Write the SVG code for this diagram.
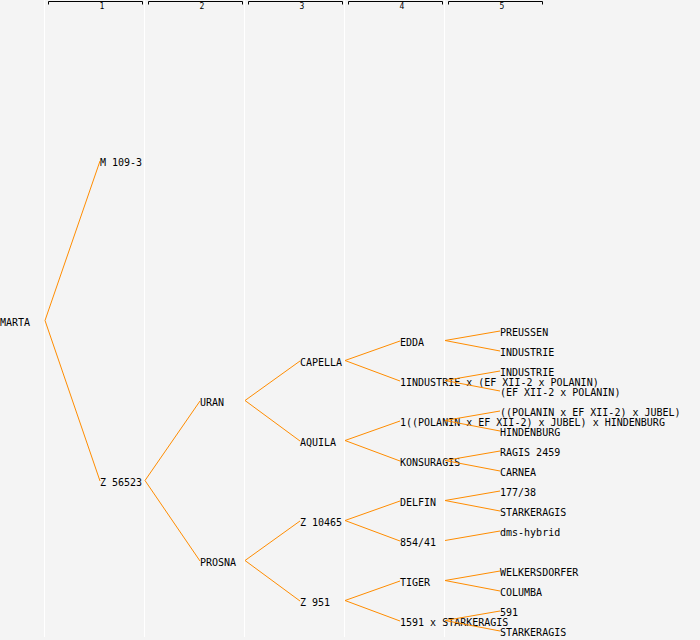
<svg xmlns="http://www.w3.org/2000/svg" width="700" height="640" viewBox="0 0 700 640">
<style>
.sep{stroke:#ffffff;stroke-width:1}
.br{fill:none;stroke:#000000;stroke-width:1}
.hl{font-family:"DejaVu Sans Mono","Liberation Mono",monospace;font-size:8px;fill:#000;text-anchor:middle}
.t{font-family:"DejaVu Sans Mono","Liberation Mono",monospace;font-size:10px;fill:#000}
.c line{stroke:#ff8c00;stroke-width:1}
</style>
<rect x="0" y="0" width="700" height="640" fill="#f4f4f4"/>
<g id="columns">
<line class="sep" x1="44.5" y1="0" x2="44.5" y2="637"/>
<line class="sep" x1="144.5" y1="0" x2="144.5" y2="637"/>
<line class="sep" x1="244.5" y1="0" x2="244.5" y2="637"/>
<line class="sep" x1="344.5" y1="0" x2="344.5" y2="637"/>
<line class="sep" x1="444.5" y1="0" x2="444.5" y2="637"/>
<path class="br" d="M48.5,4.5V1.5H142.5V4.5"/>
<path class="br" d="M148.5,4.5V1.5H242.5V4.5"/>
<path class="br" d="M248.5,4.5V1.5H342.5V4.5"/>
<path class="br" d="M348.5,4.5V1.5H442.5V4.5"/>
<path class="br" d="M448.5,4.5V1.5H542.5V4.5"/>
<text class="hl" x="102" y="9">1</text>
<text class="hl" x="202" y="9">2</text>
<text class="hl" x="302" y="9">3</text>
<text class="hl" x="402" y="9">4</text>
<text class="hl" x="502" y="9">5</text>
</g>
<g id="n-marta"><text class="t" x="0" y="326">MARTA</text></g>
<g id="n-m1093"><text class="t" x="100" y="166">M 109-3</text></g>
<g id="n-z56523"><text class="t" x="100" y="486">Z 56523</text></g>
<g id="n-uran"><text class="t" x="200" y="406">URAN</text></g>
<g id="n-prosna"><text class="t" x="200" y="566">PROSNA</text></g>
<g id="n-capella"><text class="t" x="300" y="366">CAPELLA</text></g>
<g id="n-aquila"><text class="t" x="300" y="446">AQUILA</text></g>
<g id="n-z10465"><text class="t" x="300" y="526">Z 10465</text></g>
<g id="n-z951"><text class="t" x="300" y="606">Z 951</text></g>
<g id="n-edda"><text class="t" x="400" y="346">EDDA</text></g>
<g id="n-1industrie"><text class="t" x="400" y="386">1INDUSTRIE x (EF XII-2 x POLANIN)</text></g>
<g id="n-1polanin"><text class="t" x="400" y="426">1((POLANIN x EF XII-2) x JUBEL) x HINDENBURG</text></g>
<g id="n-konsuragis"><text class="t" x="400" y="466">KONSURAGIS</text></g>
<g id="n-delfin"><text class="t" x="400" y="506">DELFIN</text></g>
<g id="n-85441"><text class="t" x="400" y="546">854/41</text></g>
<g id="n-tiger"><text class="t" x="400" y="586">TIGER</text></g>
<g id="n-1591"><text class="t" x="400" y="626">1591 x STARKERAGIS</text></g>
<g id="n-preussen"><text class="t" x="500" y="336">PREUSSEN</text></g>
<g id="n-industrie1"><text class="t" x="500" y="356">INDUSTRIE</text></g>
<g id="n-industrie2"><text class="t" x="500" y="376">INDUSTRIE</text></g>
<g id="n-efxii"><text class="t" x="500" y="396">(EF XII-2 x POLANIN)</text></g>
<g id="n-polaninjubel"><text class="t" x="500" y="416">((POLANIN x EF XII-2) x JUBEL)</text></g>
<g id="n-hindenburg"><text class="t" x="500" y="436">HINDENBURG</text></g>
<g id="n-ragis"><text class="t" x="500" y="456">RAGIS 2459</text></g>
<g id="n-carnea"><text class="t" x="500" y="476">CARNEA</text></g>
<g id="n-17738"><text class="t" x="500" y="496">177/38</text></g>
<g id="n-starkeragis1"><text class="t" x="500" y="516">STARKERAGIS</text></g>
<g id="n-dms"><text class="t" x="500" y="536">dms-hybrid</text></g>
<g id="n-welkersdorfer"><text class="t" x="500" y="576">WELKERSDORFER</text></g>
<g id="n-columba"><text class="t" x="500" y="596">COLUMBA</text></g>
<g id="n-591"><text class="t" x="500" y="616">591</text></g>
<g id="n-starkeragis2"><text class="t" x="500" y="636">STARKERAGIS</text></g>
<g id="connectors" class="c">
<line x1="45" y1="320.5" x2="100" y2="161"/>
<line x1="45" y1="320.5" x2="100" y2="481"/>
<line x1="145" y1="480.5" x2="200" y2="401"/>
<line x1="145" y1="480.5" x2="200" y2="561"/>
<line x1="245" y1="400.5" x2="300" y2="361"/>
<line x1="245" y1="400.5" x2="300" y2="441"/>
<line x1="245" y1="560.5" x2="300" y2="521"/>
<line x1="245" y1="560.5" x2="300" y2="601"/>
<line x1="345" y1="360.5" x2="400" y2="341"/>
<line x1="345" y1="360.5" x2="400" y2="381"/>
<line x1="345" y1="440.5" x2="400" y2="421"/>
<line x1="345" y1="440.5" x2="400" y2="461"/>
<line x1="345" y1="520.5" x2="400" y2="501"/>
<line x1="345" y1="520.5" x2="400" y2="541"/>
<line x1="345" y1="600.5" x2="400" y2="581"/>
<line x1="345" y1="600.5" x2="400" y2="621"/>
<line x1="445" y1="340.5" x2="500" y2="331"/>
<line x1="445" y1="340.5" x2="500" y2="351"/>
<line x1="445" y1="380.5" x2="500" y2="371"/>
<line x1="445" y1="380.5" x2="500" y2="391"/>
<line x1="445" y1="420.5" x2="500" y2="411"/>
<line x1="445" y1="420.5" x2="500" y2="431"/>
<line x1="445" y1="460.5" x2="500" y2="451"/>
<line x1="445" y1="460.5" x2="500" y2="471"/>
<line x1="445" y1="500.5" x2="500" y2="491"/>
<line x1="445" y1="500.5" x2="500" y2="511"/>
<line x1="445" y1="540.5" x2="500" y2="531"/>
<line x1="445" y1="580.5" x2="500" y2="571"/>
<line x1="445" y1="580.5" x2="500" y2="591"/>
<line x1="445" y1="620.5" x2="500" y2="611"/>
<line x1="445" y1="620.5" x2="500" y2="631"/>
</g>
</svg>
